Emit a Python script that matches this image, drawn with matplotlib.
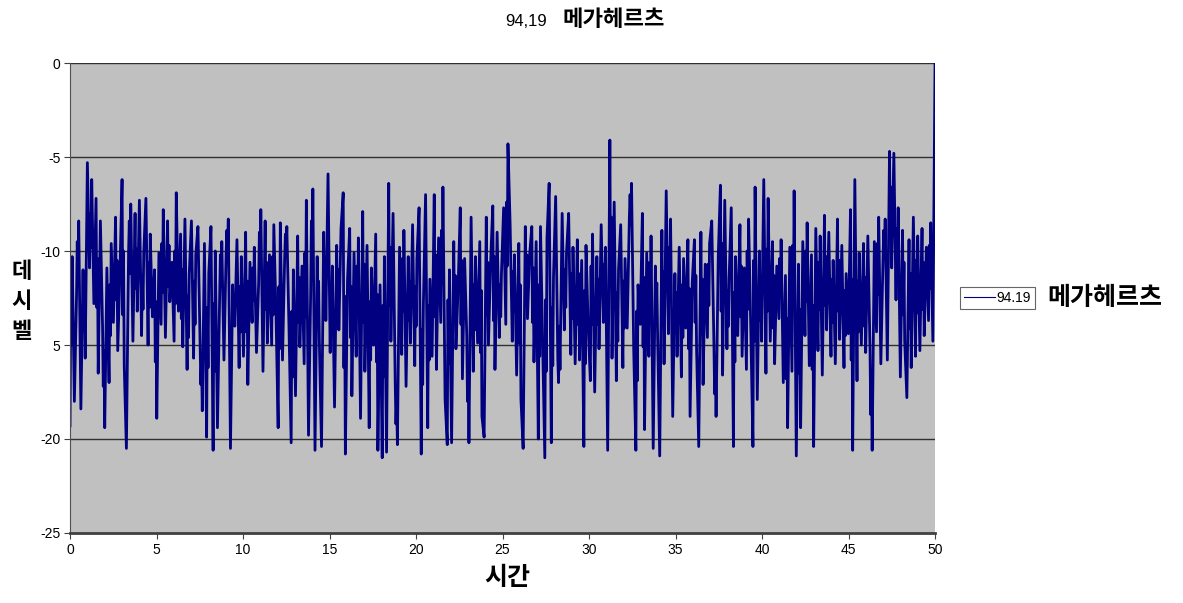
import numpy as np
import matplotlib
matplotlib.use("Agg")
import matplotlib.pyplot as plt

plt.rcParams['font.family'] = ['Noto Sans CJK KR', 'DejaVu Sans']

# 신호 레벨 (dB), 0 ~ 50 구간에서 읽은 값
levels = [
    -19.3, -10.3, -18.0, -12.4, -8.4, -18.4, -11.0, -15.7,
    -5.3, -10.9, -6.2, -12.8, -7.2, -16.5, -8.4, -14.0,
    -19.4, -10.9, -17.0, -9.6, -13.8, -8.2, -15.3, -11.2,
    -6.2, -16.1, -20.5, -10.1, -7.5, -14.8, -8.0, -13.2,
    -7.3, -14.5, -10.1, -7.2, -15.0, -9.1, -13.5, -11.0,
    -18.9, -10.1, -13.9, -7.8, -14.6, -8.4, -12.7, -10.6,
    -14.8, -6.9, -13.2, -9.1, -15.1, -8.3, -16.3, -11.2,
    -8.4, -15.7, -10.2, -8.7, -14.9, -18.5, -9.6, -19.9,
    -11.2, -8.7, -20.6, -10.0, -19.4, -12.5, -9.5, -15.8,
    -10.1, -8.3, -20.5, -11.8, -14.0, -9.4, -16.2, -10.3,
    -15.6, -9.0, -17.1, -10.6, -13.8, -9.8, -15.4, -11.7,
    -7.8, -16.4, -8.4, -14.9, -10.2, -15.0, -8.6, -13.3,
    -19.4, -8.5, -15.8, -10.4, -8.7, -14.1, -20.2, -11.0,
    -17.7, -9.2, -15.1, -10.8, -16.0, -7.3, -19.8, -12.2,
    -6.7, -20.6, -10.3, -14.8, -20.4, -9.0, -13.7, -5.9,
    -15.4, -10.8, -18.3, -9.7, -14.2, -8.8, -6.9, -20.8,
    -11.5, -8.8, -17.7, -10.1, -15.6, -9.3, -18.9, -7.9,
    -16.4, -9.7, -19.4, -10.9, -15.0, -9.1, -20.6, -11.8,
    -21.0, -10.3, -20.7, -6.4, -14.8, -8.0, -17.0, -20.3,
    -9.8, -15.5, -8.9, -17.2, -10.3, -14.9, -8.6, -16.1,
    -10.4, -7.7, -20.8, -12.8, -7.0, -19.4, -11.5, -15.6,
    -7.0, -16.3, -9.3, -13.8, -6.6, -17.9, -20.3, -11.0,
    -20.2, -9.5, -15.2, -12.0, -7.7, -16.8, -10.4, -14.5,
    -20.2, -8.2, -16.4, -10.3, -14.9, -9.5, -18.8, -19.9,
    -8.2, -15.0, -10.6, -7.6, -16.3, -9.0, -14.6, -11.2,
    -7.7, -13.9, -4.3, -8.6, -14.8, -10.2, -16.6, -9.6,
    -17.9, -20.5, -8.7, -13.6, -10.2, -8.7, -15.9, -9.5,
    -20.0, -8.7, -14.7, -21.0, -9.3, -6.4, -20.2, -11.4,
    -7.1, -15.8, -16.3, -8.0, -14.2, -10.1, -8.0, -15.5,
    -9.8, -16.0, -9.4, -15.8, -10.5, -20.4, -9.7, -14.0,
    -16.9, -9.1, -17.5, -10.3, -15.2, -8.6, -13.8, -9.8,
    -20.6, -4.1, -15.7, -7.4, -16.9, -11.0, -8.6, -16.2,
    -10.4, -14.1, -8.2, -6.4, -15.2, -20.6, -11.8, -13.9,
    -8.0, -19.5, -10.1, -15.6, -9.2, -20.5, -10.8, -14.3,
    -20.9, -8.9, -16.0, -6.8, -14.4, -8.3, -18.8, -11.2,
    -15.6, -9.8, -16.7, -10.4, -14.1, -9.4, -18.8, -11.7,
    -9.4, -15.2, -20.4, -9.0, -17.1, -10.7, -14.6, -9.6,
    -8.4, -14.9, -18.8, -10.3, -6.5, -16.6, -7.3, -15.2,
    -11.5, -7.7, -20.4, -10.3, -14.5, -8.6, -15.6, -10.9,
    -16.3, -8.3, -14.1, -20.4, -6.6, -17.9, -10.0, -14.8,
    -6.2, -16.5, -7.2, -14.8, -9.5, -16.0, -10.8, -13.6,
    -9.4, -17.0, -11.3, -19.4, -9.8, -16.4, -6.8, -20.9,
    -10.7, -19.4, -9.5, -14.5, -8.5, -16.1, -10.2, -20.4,
    -8.8, -15.3, -9.2, -16.6, -8.1, -14.2, -9.0, -15.6,
    -10.5, -16.0, -8.3, -14.7, -9.7, -16.2, -11.2, -14.4,
    -7.8, -20.6, -6.2, -16.9, -10.1, -15.0, -9.6, -15.4,
    -9.2, -15.2, -20.6, -9.5, -14.3, -8.2, -16.0, -10.4,
    -8.3, -15.8, -4.7, -10.9, -4.8, -12.6, -7.7, -16.7,
    -8.9, -14.8, -17.8, -9.4, -16.2, -8.2, -15.6, -9.2,
    -15.3, -8.8, -14.5, -9.8, -13.7, -8.5, -14.8, 0.0,
]

# 세 구간마다 끼어 있는 작은 흔들림 (dB 두 값씩)
wiggles = [
    (-12.5, -15.0), (-9.5, -11.6), (-14.2, -12.3), (-8.0, -9.8), (-13.0, -10.4),
    (-17.2, -15.3), (-11.8, -14.5), (-12.6, -10.5), (-13.4, -10.0), (-8.4, -11.2),
    (-12.0, -9.9), (-11.3, -13.1), (-10.6, -13.0), (-15.9, -12.7), (-9.6, -12.2),
    (-11.9, -9.7), (-10.0, -12.8), (-13.6, -11.0), (-12.4, -14.6), (-11.6, -13.9),
    (-17.1, -15.8), (-13.0, -16.2), (-12.8, -16.4), (-10.2, -11.9), (-8.9, -9.8),
    (-13.6, -12.4), (-11.9, -14.3), (-14.3, -11.6), (-10.9, -12.6), (-9.0, -10.8),
    (-13.1, -10.6), (-10.3, -13.4), (-11.9, -15.2), (-9.1, -10.0), (-13.2, -16.7),
    (-13.8, -11.4), (-10.1, -13.5), (-8.4, -10.9), (-13.9, -11.6), (-12.6, -10.4),
    (-11.9, -13.8), (-13.1, -11.0), (-16.2, -12.4), (-14.6, -11.9), (-10.8, -13.2),
    (-13.8, -10.7), (-12.7, -15.8), (-15.9, -12.3), (-12.9, -16.7), (-12.9, -9.8),
    (-19.2, -17.9), (-10.4, -13.2), (-13.7, -11.6), (-11.9, -14.0), (-14.2, -17.1),
    (-12.9, -15.8), (-13.5, -10.2), (-8.9, -11.7), (-12.6, -16.0), (-13.8, -11.3),
    (-13.9, -10.5), (-18.0, -15.9), (-11.8, -14.2), (-15.4, -12.1), (-13.4, -10.6),
    (-13.7, -10.3), (-11.8, -13.5), (-7.4, -10.8), (-11.1, -13.2), (-14.9, -11.8),
    (-12.5, -10.2), (-13.8, -10.9), (-11.8, -15.6), (-12.6, -16.4), (-13.0, -16.1),
    (-17.0, -14.0), (-11.0, -13.0), (-11.2, -13.6), (-13.9, -11.2), (-12.1, -16.0),
    (-10.8, -13.9), (-13.9, -11.5), (-10.7, -12.5), (-11.9, -8.2), (-12.2, -14.8),
    (-11.6, -14.1), (-7.0, -8.6), (-13.2, -16.9), (-15.1, -11.4), (-10.6, -13.1),
    (-13.4, -11.7), (-13.9, -11.1), (-9.8, -12.4), (-14.3, -12.2), (-11.8, -14.6),
    (-15.2, -12.0), (-13.8, -11.3), (-14.4, -11.5), (-10.7, -12.9), (-17.6, -15.9),
    (-13.2, -9.6), (-12.1, -14.0), (-12.2, -15.9), (-13.5, -10.8), (-10.0, -13.1),
    (-10.5, -14.8), (-13.7, -11.6), (-9.9, -13.2), (-14.1, -11.3), (-10.4, -12.2),
    (-16.8, -13.6), (-9.7, -13.0), (-16.5, -13.1), (-10.0, -12.7), (-16.3, -12.9),
    (-10.6, -13.1), (-12.9, -10.3), (-11.5, -13.8), (-13.2, -10.5), (-12.1, -14.5),
    (-15.8, -11.5), (-11.6, -14.3), (-14.0, -11.4), (-18.7, -16.4), (-9.6, -12.3),
    (-8.9, -10.0), (-9.4, -6.6), (-8.8, -11.0), (-13.4, -10.6), (-14.1, -11.2),
    (-10.5, -13.3), (-13.1, -10.6), (-9.7, -12.0),
]

# 시간축 배치: 주 표본은 등간격, 흔들림은 해당 구간 안에 끼움
step = 50 / (len(levels) - 1)
times, signal = [], []
for i, v in enumerate(levels):
    times.append(i * step)
    signal.append(v)
    k, r = divmod(i, 3)
    if r == 0 and k < len(wiggles):
        times += [i * step + step / 3, i * step + 2 * step / 3]
        signal += list(wiggles[k])

y_ticks = [0, -5, -10, -15, -20, -25]
y_tick_labels = ['0', '-5', '-10', '5', '-20', '-25']
x_ticks = list(range(0, 51, 5))

fig = plt.figure(figsize=(11.83, 6.03), dpi=100)
ax = fig.add_axes([0.0592, 0.1161, 0.7312, 0.7794])
ax.set_facecolor('#c0c0c0')

for yv in y_ticks[:-1]:
    ax.axhline(yv, color='#303030', lw=1.0, zorder=1)

line, = ax.plot(times, signal, color='#000080', lw=2.0, zorder=2)

ax.set_xlim(0, 50)
ax.set_ylim(-25, 0)
ax.set_xticks(x_ticks)
ax.set_yticks(y_ticks)
ax.set_yticklabels(y_tick_labels)
ax.tick_params(labelsize=10, length=4, color='#404040', pad=3)
for lab in ax.get_xticklabels() + ax.get_yticklabels():
    lab.set_family('Liberation Sans')

for s in ['top', 'right']:
    ax.spines[s].set_visible(False)
ax.spines['left'].set_color('#505050')
ax.spines['bottom'].set_color('#404040')
ax.spines['bottom'].set_linewidth(2)

# 제목
fig.text(547 / 1183, 1 - 22 / 603, '94,19', fontsize=12, family='Liberation Sans',
         ha='right', va='center')
fig.text(562 / 1183, 1 - 20 / 603, '메가헤르츠', fontsize=16, fontweight='bold',
         ha='left', va='center')

# 축 제목
fig.text(507 / 1183, 1 - 578 / 603, '시간', fontsize=18, fontweight='bold',
         ha='center', va='center')
for i, ch in enumerate('데시벨'):
    fig.text(22 / 1183, 1 - (271 + 30 * i) / 603, ch, fontsize=16,
             fontweight='bold', ha='center', va='center')

# 범례
leg = fig.legend([line], ['94.19'], loc='center left',
                 bbox_to_anchor=(960 / 1183, 1 - 298 / 603),
                 frameon=True, fancybox=False, fontsize=10,
                 handlelength=2.2, handletextpad=0.15, borderpad=0.3,
                 borderaxespad=0)
leg.get_frame().set_edgecolor('#404040')
leg.get_frame().set_linewidth(0.8)
for t in leg.get_texts():
    t.set_family('Liberation Sans')
for h in leg.legend_handles:
    h.set_linewidth(0.8)
fig.text(1047 / 1183, 1 - 298 / 603, '메가헤르츠', fontsize=18, fontweight='bold',
         ha='left', va='center')

fig.savefig('out.png', dpi=100)
